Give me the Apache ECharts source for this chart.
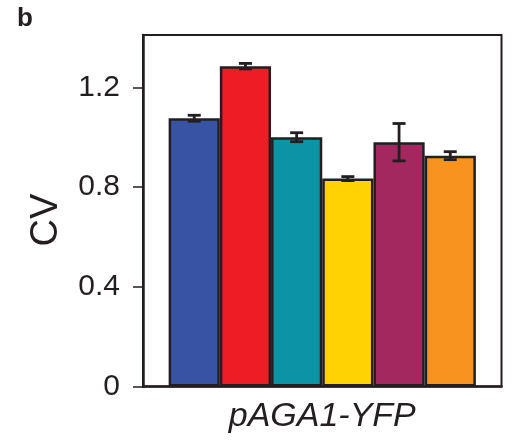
<!DOCTYPE html>
<html>
<head>
<meta charset="utf-8">
<script src="https://cdn.jsdelivr.net/npm/echarts@6/dist/echarts.min.js"></script>
<style>
  html, body { margin: 0; padding: 0; background: #fff; }
  #chart { width: 513px; height: 445px; }
</style>
</head>
<body>
<div id="chart"></div>
<script>
// Reporter construct and the CV of each strain (mean ± error)
const categories = ['pAGA1-YFP'];
const strainColors = ['#3953a4', '#ee1c25', '#0c93a6', '#ffd204', '#a3285f', '#f7931e'];
const cvMeans = [1.076, 1.285, 1.000, 0.834, 0.980, 0.926];
const cvErrors = [0.012, 0.011, 0.018, 0.008, 0.075, 0.016];
const yTicks = [0, 0.4, 0.8, 1.2];

const INK = '#231f20';
const FONT = '"Liberation Sans", Arial, Helvetica, sans-serif';
const CATEGORY_GAP = 0.143;

const chart = echarts.init(document.getElementById('chart'), null, { renderer: 'canvas' });

const barSeries = cvMeans.map((v, i) => ({
  type: 'bar',
  data: [v],
  barGap: '0%',
  barCategoryGap: (CATEGORY_GAP * 100) + '%',
  itemStyle: { color: strainColors[i], borderColor: INK, borderWidth: 2.5 },
  z: 2
}));

// error bars, centred on each bar inside the category band
const errorSeries = {
  type: 'custom',
  encode: { x: 0, y: [1, 2] },
  data: cvMeans.map((v, i) => [0, v - cvErrors[i], v + cvErrors[i], i]),
  renderItem(params, api) {
    const cat = api.value(0);
    const lo = api.coord([cat, api.value(1)]);
    const hi = api.coord([cat, api.value(2)]);
    const band = api.size([1, 0])[0];
    const used = band * (1 - CATEGORY_GAP);
    const barW = used / cvMeans.length;
    const x = lo[0] - used / 2 + barW * (api.value(3) + 0.5);
    const cap = 6.5;
    const style = { stroke: INK, lineWidth: 2.8 };
    return {
      type: 'group',
      children: [
        { type: 'line', shape: { x1: x, y1: hi[1], x2: x, y2: lo[1] }, style },
        { type: 'line', shape: { x1: x - cap, y1: hi[1], x2: x + cap, y2: hi[1] }, style },
        { type: 'line', shape: { x1: x - cap, y1: lo[1], x2: x + cap, y2: lo[1] }, style }
      ]
    };
  },
  z: 5
};

chart.setOption({
  animation: false,
  backgroundColor: '#fff',
  grid: {
    left: 143, right: 11.5, top: 35, bottom: 58.5,
    show: true, borderColor: INK, borderWidth: 2, backgroundColor: 'transparent'
  },
  xAxis: {
    type: 'category',
    data: categories,
    axisLine: { show: true, lineStyle: { color: INK, width: 2.5 } },
    axisTick: { show: false },
    axisLabel: {
      color: INK, fontFamily: FONT, fontStyle: 'italic', fontSize: 34, margin: 13
    },
    splitLine: { show: false }
  },
  yAxis: {
    type: 'value',
    min: 0, max: 1.41, interval: 0.4,
    axisLine: { show: true, lineStyle: { color: INK, width: 2.5 } },
    axisTick: { show: true, length: 10, lineStyle: { color: INK, width: 1.5 }, customValues: yTicks },
    axisLabel: {
      color: INK, fontFamily: FONT, fontSize: 30, margin: 23,
      customValues: yTicks,
      formatter: v => (v === 0 ? '0' : v.toFixed(1))
    },
    splitLine: { show: false }
  },
  graphic: [
    {
      type: 'text', left: 17, top: 6,
      style: { text: 'b', font: 'bold 26px ' + FONT, fill: INK }
    },
    {
      type: 'text', x: 47, y: 220, rotation: Math.PI / 2,
      style: { text: 'CV', font: '38px ' + FONT, fill: INK, align: 'center', verticalAlign: 'middle' }
    }
  ],
  series: [...barSeries, errorSeries]
});
</script>
</body>
</html>
